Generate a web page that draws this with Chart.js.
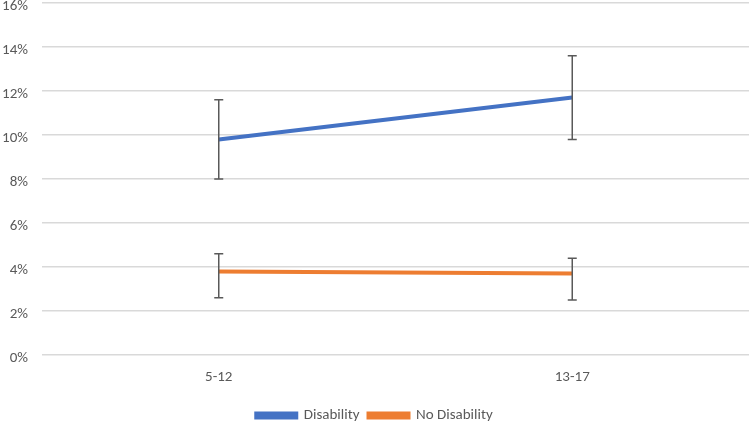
<!DOCTYPE html>
<html>
<head>
<meta charset="utf-8">
<script src="https://cdn.jsdelivr.net/npm/chart.js@4/dist/chart.umd.min.js"></script>
<style>
  html, body { margin: 0; padding: 0; background: #fff; overflow: hidden; }
  #wrap { width: 749px; height: 453px; margin-top: -20px; }
</style>
</head>
<body>
<div id="wrap"><canvas id="chart"></canvas></div>
<script>
const categories = ["5-12", "13-17"];
const disability = [9.8, 11.7];
const disabilityLow = [8.0, 9.8];
const disabilityHigh = [11.6, 13.6];
const noDisability = [3.8, 3.7];
const noDisabilityLow = [2.6, 2.5];
const noDisabilityHigh = [4.6, 4.4];

const fontFamily = "Carlito, Lato, 'Liberation Sans', sans-serif";

// draw error bars from the low/high arrays
const errorBars = {
  id: "errorBars",
  afterDatasetsDraw(chart) {
    const ctx = chart.ctx;
    const x = chart.scales.x, y = chart.scales.y;
    ctx.save();
    ctx.strokeStyle = "#595959";
    ctx.lineWidth = 1.5;
    chart.data.datasets.forEach((ds) => {
      ds.low.forEach((lo, i) => {
        const px = x.getPixelForValue(i);
        const y1 = y.getPixelForValue(lo);
        const y2 = y.getPixelForValue(ds.high[i]);
        ctx.beginPath();
        ctx.moveTo(px, y1); ctx.lineTo(px, y2);
        ctx.moveTo(px - 4.5, y1); ctx.lineTo(px + 4.5, y1);
        ctx.moveTo(px - 4.5, y2); ctx.lineTo(px + 4.5, y2);
        ctx.stroke();
      });
    });
    ctx.restore();
  }
};

new Chart(document.getElementById("chart"), {
  type: "line",
  data: {
    labels: categories,
    datasets: [
      { label: "Disability", data: disability, low: disabilityLow, high: disabilityHigh,
        borderColor: "#4472C4", backgroundColor: "#4472C4", borderWidth: 4, pointRadius: 0 },
      { label: "No Disability", data: noDisability, low: noDisabilityLow, high: noDisabilityHigh,
        borderColor: "#ED7D31", backgroundColor: "#ED7D31", borderWidth: 4, pointRadius: 0 }
    ]
  },
  options: {
    responsive: true,
    maintainAspectRatio: false,
    animation: false,
    layout: { padding: 0 },
    plugins: {
      tooltip: { enabled: false },
      legend: {
        position: "bottom",
        labels: {
          boxWidth: 40, boxHeight: 4, padding: 9,
          color: "#595959", font: { family: fontFamily, size: 15 }
        }
      }
    },
    scales: {
      x: {
        offset: true,
        grid: { display: false, drawTicks: false },
        border: { display: false },
        ticks: { color: "#595959", padding: 13, font: { family: fontFamily, size: 15 } }
      },
      y: {
        min: 0, max: 16,
        grid: { color: "#D9D9D9", lineWidth: 1.5, drawTicks: false },
        border: { display: false },
        afterFit(scale) { scale.width = 42; },
        ticks: {
          stepSize: 2, padding: 14, labelOffset: 3, color: "#595959",
          font: { family: fontFamily, size: 15 },
          callback: (v) => v + "%"
        }
      }
    }
  },
  plugins: [errorBars]
});
</script>
</body>
</html>
